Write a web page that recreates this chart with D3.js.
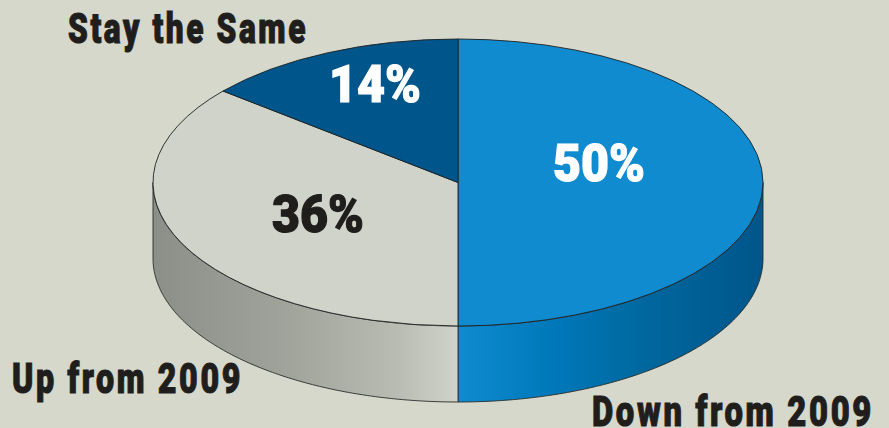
<!DOCTYPE html>
<html>
<head>
<meta charset="utf-8">
<script src="https://cdn.jsdelivr.net/npm/d3@7"></script>
<style>
  html, body { margin: 0; padding: 0; background: #d5d8cb; }
  svg { display: block; }
  text { font-family: Roboto, "Liberation Sans", sans-serif; font-weight: 900; }
</style>
</head>
<body>
<svg id="chart" width="889" height="428"></svg>
<script>
const categories = ["Down from 2009", "Up from 2009", "Stay the Same"];
const shares = [50, 36, 14];
const topColors = ["#108bd0", "#d0d3c9", "#00558a"];
const wallStops = [
  [[0, "#0f8bd0"], [0.3, "#0079bb"], [0.6, "#00689f"], [1, "#00558a"]],
  [[0, "#8b8f88"], [0.45, "#a0a49b"], [0.8, "#b8bcb2"], [1, "#d0d3c9"]]
];

const width = 889, height = 428;
const cx = 458, cy = 182.5, rx = 305, ry = 143.5, depth = 76;

const svg = d3.select("#chart");
const defs = svg.append("defs");

const x = d3.scaleLinear().domain([-1, 1]).range([cx - rx, cx + rx]);
const y = d3.scaleLinear().domain([-1, 1]).range([cy - ry, cy + ry]);

const pie = d3.pie().sort(null).startAngle(0).endAngle(2 * Math.PI);
const arcs = pie(shares);

// Cylinder wall: only the part of each slice on the front half of the rim is visible.
const rim = d3.line().x(d => x(Math.sin(d[0]))).y(d => y(-Math.cos(d[0])) + d[1]);
const front = [Math.PI / 2, 3 * Math.PI / 2];

arcs.forEach((a, i) => {
  const a0 = Math.max(a.startAngle, front[0]);
  const a1 = Math.min(a.endAngle, front[1]);
  if (a1 <= a0) return;

  const xa = x(Math.sin(a0)), xb = x(Math.sin(a1));
  const grad = defs.append("linearGradient")
    .attr("id", "wall" + i)
    .attr("gradientUnits", "userSpaceOnUse")
    .attr("x1", Math.min(xa, xb)).attr("x2", Math.max(xa, xb))
    .attr("y1", 0).attr("y2", 0);
  wallStops[i].forEach(s => grad.append("stop").attr("offset", s[0]).attr("stop-color", s[1]));

  const angles = d3.range(0, 121).map(k => a0 + (a1 - a0) * k / 120);
  const pts = angles.map(t => [t, 0]).concat(angles.slice().reverse().map(t => [t, depth]));
  svg.append("path")
    .attr("d", rim(pts) + "Z")
    .attr("fill", `url(#wall${i})`)
    .attr("stroke", "#2a2c2a")
    .attr("stroke-width", 0.9);
});

// Top face of the disc.
const arc = d3.arc().innerRadius(0).outerRadius(rx);
svg.append("g")
  .attr("transform", `translate(${cx},${cy}) scale(1,${ry / rx})`)
  .selectAll("path")
  .data(arcs)
  .join("path")
  .attr("d", arc)
  .attr("fill", (d, i) => topColors[i])
  .attr("stroke", "#1e2022")
  .attr("stroke-width", 0.9)
  .attr("vector-effect", "non-scaling-stroke");

// Category captions and percentage labels, condensed to a narrow display width.
const captionBoxes = [
  { left: 592, base: 426, len: 282 },
  { left: 12, base: 393, len: 231 },
  { left: 68, base: 43, len: 240 }
];
const valueBoxes = [
  { left: 553, base: 181, fill: "#ffffff" },
  { left: 272, base: 232, fill: "#1f1e1c" },
  { left: 329, base: 102, fill: "#ffffff" }
];

svg.append("g").selectAll("text")
  .data(categories)
  .join("text")
  .attr("x", (d, i) => captionBoxes[i].left)
  .attr("y", (d, i) => captionBoxes[i].base)
  .attr("font-size", 43)
  .attr("letter-spacing", 3.5)
  .attr("textLength", (d, i) => captionBoxes[i].len)
  .attr("lengthAdjust", "spacingAndGlyphs")
  .attr("fill", "#1f1e1c")
  .attr("stroke", "#1f1e1c")
  .attr("stroke-width", 1.1)
  .text(d => d);

svg.append("g").selectAll("text")
  .data(shares)
  .join("text")
  .attr("x", (d, i) => valueBoxes[i].left)
  .attr("y", (d, i) => valueBoxes[i].base)
  .attr("font-size", 52)
  .attr("textLength", 92)
  .attr("lengthAdjust", "spacingAndGlyphs")
  .attr("fill", (d, i) => valueBoxes[i].fill)
  .attr("stroke", (d, i) => valueBoxes[i].fill)
  .attr("stroke-width", 1.2)
  .text(d => d + "%");
</script>
</body>
</html>
